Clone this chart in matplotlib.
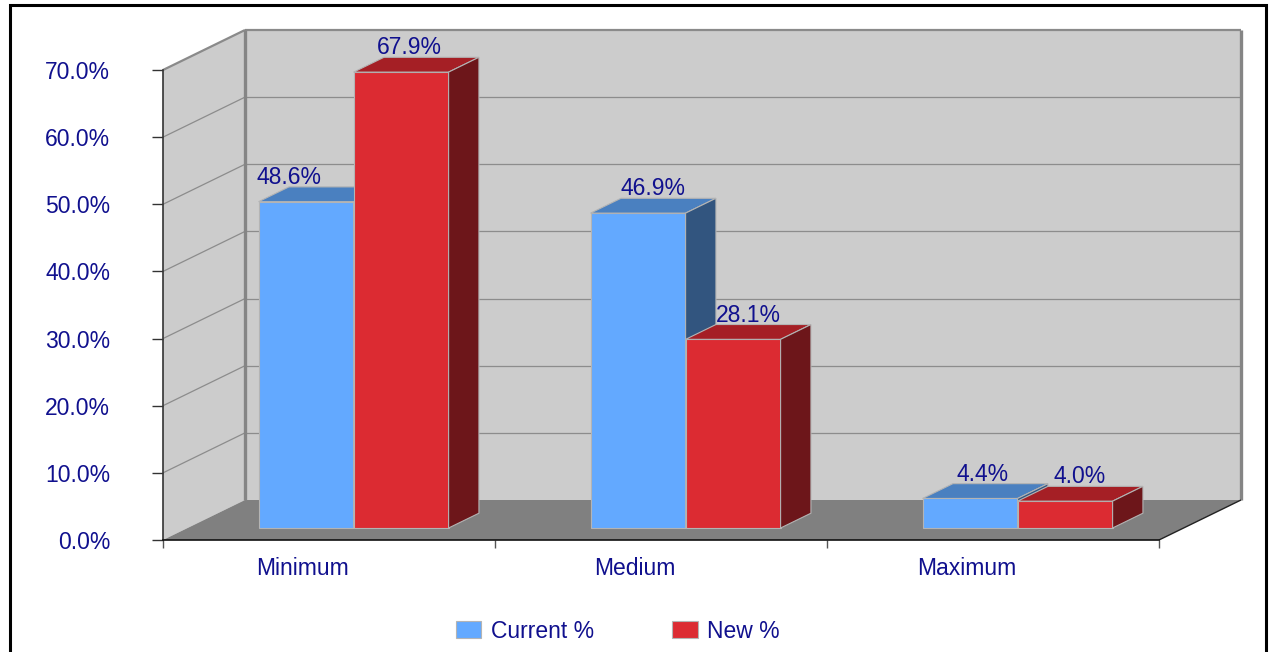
import matplotlib
matplotlib.use("Agg")
import matplotlib.pyplot as plt
from matplotlib.patches import Polygon, Rectangle, Patch
from matplotlib.transforms import offset_copy

plt.rcParams['font.family'] = ['Liberation Sans', 'DejaVu Sans']

categories = ["Minimum", "Medium", "Maximum"]
current_pct = [48.6, 46.9, 4.4]
new_pct = [67.9, 28.1, 4.0]
series_names = ["Current %", "New %"]
y_ticks = [0, 10, 20, 30, 40, 50, 60, 70]

TEXT = '#10108E'
WALL = '#CCCCCC'
FLOOR = '#808080'
GRID = '#8C8C8C'
EDGE = '#B4B4B4'
palettes = [
    ('#63A9FF', '#4A80C0', '#32557F'),   # front, top, side
    ('#DC2B32', '#A51F25', '#6D161A'),
]

W, H, DPI = 1270, 652, 100
fig = plt.figure(figsize=(W / DPI, H / DPI), dpi=DPI)
fig.patch.set_facecolor('white')

# front plane of the chart box
ax = fig.add_axes([163 / W, 112 / H, 996 / W, 470 / H])
ncat = len(categories)
ymax = y_ticks[-1]
ax.set_xlim(0, ncat)
ax.set_ylim(0, ymax)
ax.set_facecolor('none')

# oblique depth vector of the box (category units, value units)
px_x = 996 / ncat
px_y = 470 / ymax
DX = 82 / px_x
DY = 40 / px_y


def poly(pts, fc, ec='none', lw=0, z=1):
    p = Polygon(pts, closed=True, facecolor=fc, edgecolor=ec, linewidth=lw,
                zorder=z, clip_on=False, joinstyle='miter')
    ax.add_patch(p)


def line(xs, ys, color, lw, z=2):
    ax.plot(xs, ys, color=color, lw=lw, zorder=z, clip_on=False,
            solid_capstyle='butt')


# walls and floor
poly([(DX, DY), (ncat + DX, DY), (ncat + DX, ymax + DY), (DX, ymax + DY)], WALL)
poly([(0, 0), (DX, DY), (DX, ymax + DY), (0, ymax)], WALL)
poly([(0, 0), (ncat, 0), (ncat + DX, DY), (DX, DY)], FLOOR)

# gridlines on back and side walls
for v in y_ticks[1:-1]:
    line([DX, ncat + DX], [v + DY, v + DY], GRID, 0.9)
    line([0, DX], [v, v + DY], GRID, 0.9)

# wall outlines
line([DX, ncat + DX], [ymax + DY, ymax + DY], '#8A8A8A', 1.6)
line([0, DX], [ymax, ymax + DY], '#8A8A8A', 1.6)
line([DX, DX], [DY, ymax + DY], '#858585', 2.4)
line([ncat + DX, ncat + DX], [DY, ymax + DY], '#858585', 2.4)
line([ncat, ncat + DX], [0, DY], '#222222', 1.0)

# bars
z_front, z_back = 0.30, 0.67
bar_w = 95 / px_x
series = [current_pct, new_pct]
label_nudge_px = [[-32, -7], [0, 0], [-3, 0]]

for i in range(ncat):
    for s, vals in enumerate(series):
        h = vals[i]
        front_c, top_c, side_c = palettes[s]
        x0 = i + 0.5 - bar_w + s * bar_w + z_front * DX
        y0 = z_front * DY
        bdx = (z_back - z_front) * DX
        bdy = (z_back - z_front) * DY
        z = 5 + i * 2 + s
        poly([(x0, y0), (x0 + bar_w, y0), (x0 + bar_w, y0 + h), (x0, y0 + h)],
             front_c, EDGE, 0.8, z)
        poly([(x0, y0 + h), (x0 + bar_w, y0 + h),
              (x0 + bar_w + bdx, y0 + h + bdy), (x0 + bdx, y0 + h + bdy)],
             top_c, EDGE, 0.8, z)
        poly([(x0 + bar_w, y0), (x0 + bar_w + bdx, y0 + bdy),
              (x0 + bar_w + bdx, y0 + h + bdy), (x0 + bar_w, y0 + h)],
             side_c, EDGE, 0.8, z)
        tr = offset_copy(ax.transData, fig=fig,
                         x=(15 + label_nudge_px[i][s]) * 72 / DPI,
                         y=3 * 72 / DPI, units='points')
        ax.text(x0 + bar_w / 2, h + z_back * DY, f"{h:.1f}%",
                transform=tr, ha='center', va='baseline',
                fontsize=16.5, color=TEXT, zorder=20, clip_on=False)

# axes lines and ticks
for side in ('top', 'right'):
    ax.spines[side].set_visible(False)
ax.spines['left'].set_color('#333333')
ax.spines['left'].set_linewidth(1.2)
ax.spines['bottom'].set_color('#111111')
ax.spines['bottom'].set_linewidth(1.2)
ax.spines['left'].set_zorder(3)
ax.spines['bottom'].set_zorder(3)

ax.set_yticks(y_ticks)
ax.set_yticklabels([f"{v:.1f}%" for v in y_ticks])
ax.tick_params(axis='y', direction='out', length=8, width=1.0, color='#333333',
               pad=30, labelsize=16.5, labelcolor=TEXT)
ax.set_xticks(range(ncat + 1))
ax.set_xticklabels([])
ax.tick_params(axis='x', direction='out', length=6, width=1.0, color='#555555')

cat_tr = offset_copy(ax.transData, fig=fig, x=-26 * 72 / DPI,
                     y=-35 * 72 / DPI, units='points')
for i, name in enumerate(categories):
    ax.text(i + 0.5, 0, name, transform=cat_tr, ha='center', va='baseline',
            fontsize=16.5, color=TEXT, clip_on=False)

# legend
handles = [Patch(facecolor=palettes[k][0], edgecolor='#B4B4B4', linewidth=0.8,
                 label=series_names[k]) for k in range(len(series_names))]
fig.legend(handles=handles, loc='center', bbox_to_anchor=(617.5 / W, 1 - 631 / H),
           ncol=2, frameon=False, fontsize=16.5, labelcolor=TEXT,
           handlelength=1.13, handleheight=0.7, handletextpad=0.4,
           columnspacing=3.4, borderaxespad=0, borderpad=0)

# outer frame
fig.patches.append(Rectangle((9.5 / W, -0.05), (1266 - 9.5) / W, 1 - 5 / H + 0.05,
                             transform=fig.transFigure, fill=False,
                             edgecolor='black', linewidth=2.2))

fig.savefig('out.png', dpi=DPI)
